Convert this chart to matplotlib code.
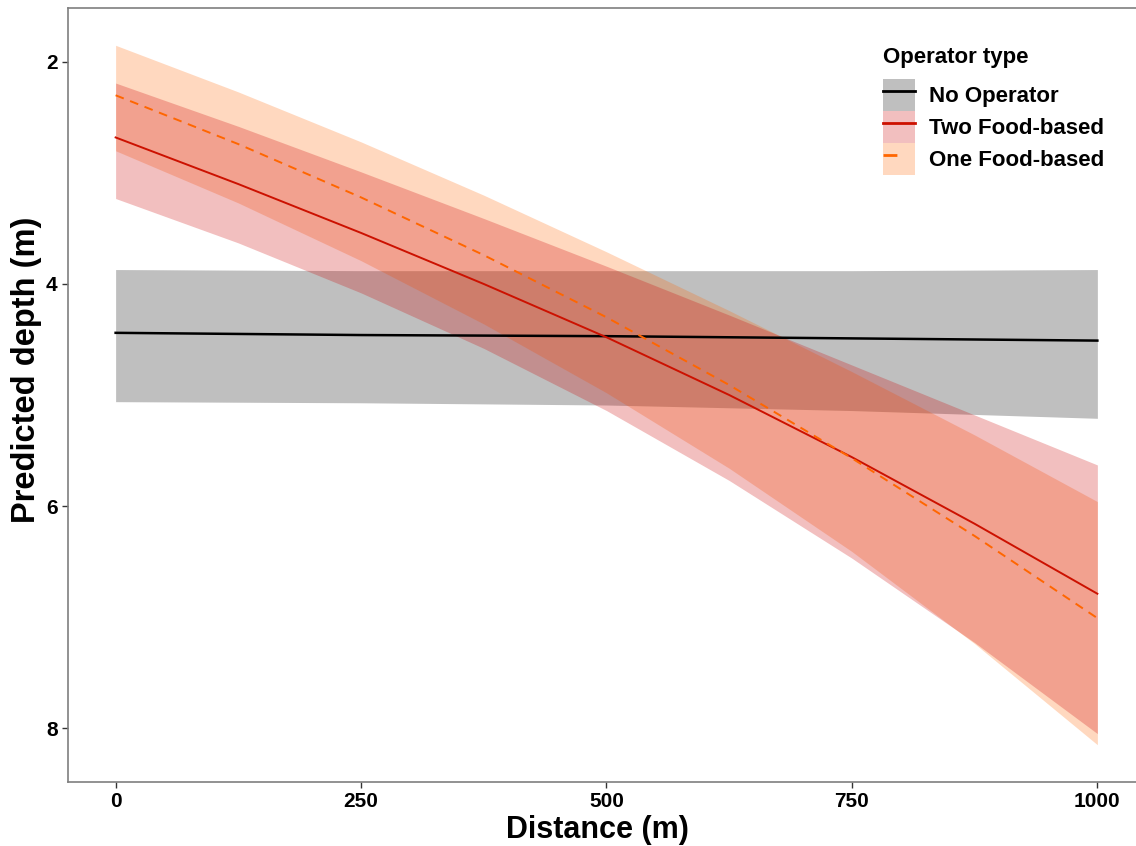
import matplotlib

matplotlib.use("Agg")
import matplotlib.pyplot as plt
from matplotlib.lines import Line2D
from matplotlib.patches import Patch

plt.rcParams["font.family"] = ["Liberation Sans", "DejaVu Sans"]

# predicted depth vs distance from operator
dist_fine = [0, 125, 250, 375, 500, 625, 750, 875, 1000]
dist_flat = [0, 250, 500, 750, 1000]

none_fit = [4.44, 4.46, 4.47, 4.49, 4.51]
none_lo = [3.87, 3.88, 3.88, 3.88, 3.87]
none_hi = [5.06, 5.07, 5.09, 5.14, 5.21]

two_fit = [2.68, 3.10, 3.54, 4.00, 4.48, 5.00, 5.56, 6.16, 6.79]
two_lo = [2.19, 2.58, 2.99, 3.41, 3.84, 4.28, 4.73, 5.18, 5.63]
two_hi = [3.23, 3.63, 4.08, 4.58, 5.14, 5.77, 6.47, 7.23, 8.05]

one_fit = [2.30, 2.74, 3.22, 3.74, 4.30, 4.91, 5.57, 6.27, 7.01]
one_lo = [1.85, 2.27, 2.72, 3.20, 3.71, 4.24, 4.79, 5.36, 5.96]
one_hi = [2.80, 3.27, 3.79, 4.36, 4.98, 5.66, 6.41, 7.24, 8.15]

labels = ["No Operator", "Two Food-based", "One Food-based"]
x_ticks = [0, 250, 500, 750, 1000]
y_ticks = [2, 4, 6, 8]

GREY_FILL = (0.5, 0.5, 0.5, 0.5)
ORANGE_FILL = (1.0, 0.4, 0.0, 0.25)
RED_FILL = (0.8, 0.0, 0.0, 0.25)
RED = "#cc1100"
ORANGE = "#ff6600"
FRAME = "#7f7f7f"

fig = plt.figure(figsize=(11.36, 8.46), dpi=100)
ax = fig.add_axes([68 / 1136, 1 - 782 / 846, 1076 / 1136, 774 / 846])

ax.fill_between(dist_flat, none_lo, none_hi, color=GREY_FILL, lw=0)
ax.fill_between(dist_fine, one_lo, one_hi, color=ORANGE_FILL, lw=0)
ax.fill_between(dist_fine, two_lo, two_hi, color=RED_FILL, lw=0)

dash = (0, (4.5, 3.5))
ax.plot(dist_flat, none_fit, color="black", lw=1.8)
ax.plot(dist_fine, two_fit, color=RED, lw=1.4)
ax.plot(dist_fine, one_fit, color=ORANGE, lw=1.4, linestyle=dash)

ax.set_xlim(-48.5, 1047.5)
ax.set_ylim(8.486, 1.514)
ax.set_xticks(x_ticks)
ax.set_yticks(y_ticks)
ax.tick_params(direction="out", length=4, width=1, color="#333333",
               labelsize=15, labelcolor="black")
for lab in ax.get_xticklabels() + ax.get_yticklabels():
    lab.set_fontweight("bold")

for side in ["left", "bottom", "top"]:
    ax.spines[side].set_color(FRAME)
    ax.spines[side].set_linewidth(1.2)
ax.spines["right"].set_visible(False)

ax.set_xlabel("Distance (m)", fontsize=22, fontweight="bold")
ax.set_ylabel("Predicted depth (m)", fontsize=23.5, fontweight="bold")
ax.xaxis.set_label_coords((597 - 68) / 1076, -(830 - 782) / 774)
ax.yaxis.set_label_coords((27 - 68) / 1076, (782 - 370) / 774)
ax.xaxis.label.set_va("center")
ax.yaxis.label.set_va("center")

handles = [
    (Patch(color=GREY_FILL, lw=0), Line2D([], [], color="black", lw=2)),
    (Patch(color=RED_FILL, lw=0), Line2D([], [], color=RED, lw=2)),
    (Patch(color=ORANGE_FILL, lw=0),
     Line2D([], [], color=ORANGE, lw=2, linestyle=(0, (5, 10)))),
]
leg = ax.legend(handles, labels, title="Operator type", loc="upper left",
                bbox_to_anchor=(883 / 1136, 1 - 47 / 846), bbox_transform=fig.transFigure,
                frameon=False, prop={"size": 16, "weight": "bold"},
                title_fontproperties={"size": 16, "weight": "bold"},
                handlelength=1.45, handleheight=1.84, labelspacing=0,
                handletextpad=0.6, borderpad=0, borderaxespad=0, alignment="left")
leg._legend_box.sep = 8

fig.savefig("out.png", dpi=100)
